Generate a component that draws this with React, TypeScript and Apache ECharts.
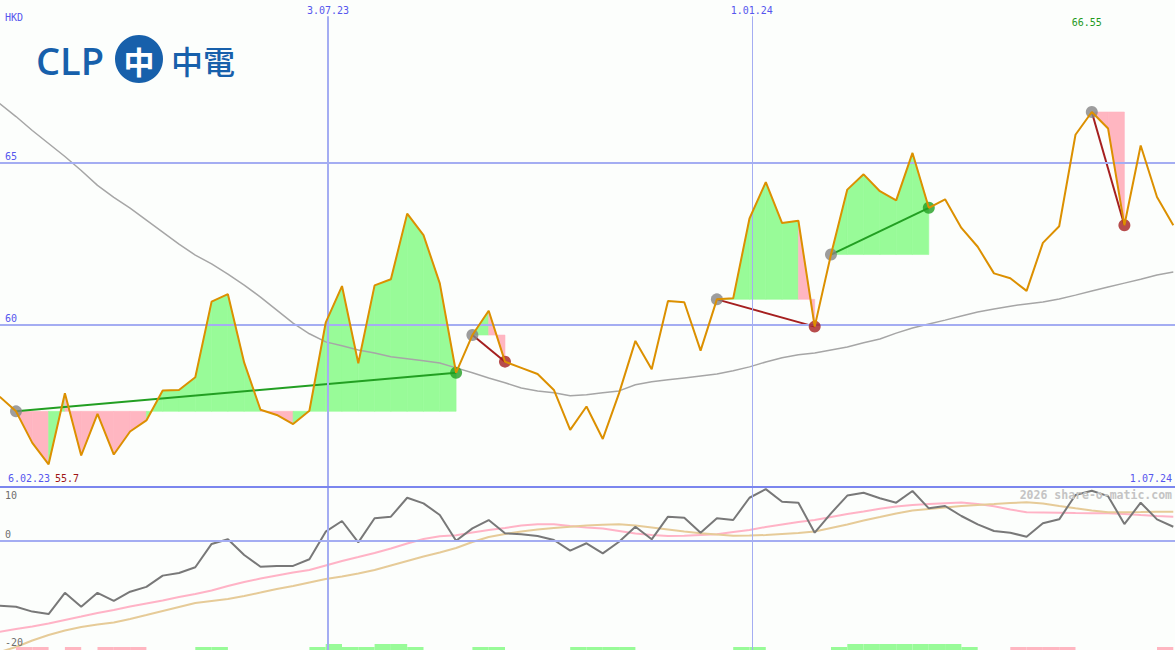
import React, { useEffect, useRef } from 'react';
import * as echarts from 'echarts';

// ---------- data (weekly, index 0 = week of 12.02.23) ----------
const FIRST_WEEK = Date.UTC(2023, 1, 12);
const WEEK_MS = 7 * 86400000;

const price = [
  57.78, 57.33, 56.36, 55.70, 57.89, 55.97, 57.25, 56.00, 56.71, 57.05,
  57.97, 57.99, 58.38, 60.71, 60.94, 58.83, 57.38, 57.22, 56.94, 57.35,
  60.06, 61.19, 58.81, 61.21, 61.40, 63.42, 62.76, 61.27, 58.52, 59.68,
  60.43, 58.86, 58.67, 58.48, 57.99, 56.76, 57.48, 56.48, 57.89, 59.50,
  58.63, 60.73, 60.69, 59.20, 60.78, 60.81, 63.27, 64.39, 63.13, 63.20,
  59.94, 62.16, 64.16, 64.63, 64.11, 63.83, 65.29, 63.60, 63.86, 62.98,
  62.40, 61.58, 61.43, 61.04, 62.52, 63.03, 65.85, 66.55, 66.04, 63.06,
  65.52, 63.93, 63.06,
];

const movingAvg = [
  66.81, 66.41, 65.98, 65.58, 65.18, 64.75, 64.29, 63.92, 63.59, 63.22,
  62.85, 62.48, 62.14, 61.87, 61.56, 61.22, 60.85, 60.45, 60.05, 59.72,
  59.47, 59.35, 59.22, 59.13, 59.01, 58.95, 58.89, 58.82, 58.67, 58.52,
  58.36, 58.21, 58.05, 57.96, 57.90, 57.81, 57.84, 57.90, 57.96, 58.15,
  58.24, 58.30, 58.36, 58.42, 58.48, 58.58, 58.70, 58.85, 58.98, 59.07,
  59.13, 59.22, 59.31, 59.44, 59.56, 59.74, 59.90, 60.02, 60.14, 60.27,
  60.39, 60.48, 60.57, 60.64, 60.70, 60.79, 60.91, 61.04, 61.16, 61.28,
  61.40, 61.53, 61.62,
];

const oscillator = [
  -12.1, -12.3, -13.2, -13.65, -9.7, -12.3, -9.7, -11.2, -9.5, -8.6,
  -6.5, -6.0, -4.95, -0.6, 0.26, -2.66, -4.84, -4.7, -4.7, -3.46,
  1.68, 3.67, -0.3, 4.17, 4.47, 8.0, 6.96, 4.79, 0.0, 2.3,
  3.85, 1.38, 1.19, 0.88, 0.13, -1.86, -0.48, -2.35, -0.19, 2.6,
  0.26, 4.47, 4.28, 1.49, 4.17, 3.85, 8.0, 9.6, 7.26, 7.08,
  1.49, 5.1, 8.4, 8.94, 7.9, 7.08, 9.26, 6.03, 6.46, 4.6,
  3.05, 1.8, 1.49, 0.74, 3.24, 3.98, 8.5, 9.3, 8.3, 3.1,
  7.08, 3.98, 2.6,
];

const oscFast = [
  -16.95, -16.44, -15.98, -15.42, -14.77, -14.12, -13.46, -12.90, -12.25, -11.69,
  -11.13, -10.48, -9.93, -9.27, -8.44, -7.69, -7.04, -6.48, -5.92, -5.46,
  -4.62, -3.78, -3.04, -2.29, -1.45, -0.52, 0.32, 0.82, 1.02, 1.53,
  1.99, 2.37, 2.83, 3.05, 3.05, 2.74, 2.46, 2.27, 1.81, 1.34,
  1.06, 0.88, 0.93, 1.06, 1.19, 1.62, 1.99, 2.55, 3.02, 3.48,
  3.85, 4.41, 4.97, 5.44, 5.94, 6.37, 6.65, 6.83, 6.98, 7.11,
  6.83, 6.41, 5.81, 5.29, 5.25, 5.21, 5.16, 5.12, 5.10, 4.97,
  4.78, 4.60, 4.47,
];

const oscSlow = [
  -20.73, -19.79, -18.58, -17.56, -16.72, -16.07, -15.61, -15.23, -14.58, -13.84,
  -13.09, -12.35, -11.60, -11.23, -10.86, -10.30, -9.65, -8.99, -8.44, -7.78,
  -7.13, -6.67, -6.11, -5.46, -4.62, -3.78, -2.94, -2.20, -1.36, -0.24,
  0.69, 1.25, 1.71, 2.09, 2.37, 2.61, 2.83, 2.96, 3.05, 2.83,
  2.46, 2.09, 1.71, 1.38, 1.15, 0.93, 0.97, 1.06, 1.25, 1.43,
  1.71, 2.37, 3.02, 3.76, 4.41, 5.07, 5.62, 5.90, 6.18, 6.46,
  6.65, 6.83, 7.02, 7.15, 6.93, 6.46, 6.03, 5.62, 5.29, 5.31,
  5.34, 5.38, 5.40,
];

const trendStart = [1, 29, 44, 51, 67];
const trendEnd = [28, 31, 50, 57, 69];

const sellWeeks = [1, 2, 4, 6, 7, 8, 62, 63, 64, 65, 71];
const buyWeeks = [12, 13, 19, 21, 22, 25, 29, 30, 35, 36, 37, 38, 45, 46, 51, 59];
const strongBuyWeeks = [20, 23, 24, 52, 53, 54, 55, 56, 57, 58];

const dateMarkLabels = ['3.07.23', '1.01.24'];
const dateMarkDates = [Date.UTC(2023, 6, 3), Date.UTC(2024, 0, 1)];
const priceTicks = [65, 60];
const oscTicks = [10, 0, -20];
const startDateLabel = '6.02.23';
const endDateLabel = '1.07.24';
const currencyLabel = 'HKD';
const watermark = '2026 share-o-matic.com';

// ---------- styling ----------
const X_MIN = 0.0184;
const X_MAX = 72.105;
const BLUE_TEXT = '#5656ee';
const GRID_LINE = '#a4adf2';
const BORDER_LINE = '#7b86ee';
const ORANGE = '#dc9000';
const GREEN_FILL = '#98fb98';
const PINK_FILL = '#ffb6c1';
const MA_COLOR = '#a6a6a6';
const UP_COLOR = '#229f22';
const DOWN_COLOR = '#a51f1f';
const START_DOT = '#858585';
const MONO = '"DejaVu Sans Mono", monospace';
const LOGO_BLUE = '#1760ab';

const fmt = (v: number) => String(+v.toFixed(2));

function buildOption() {
  const pts = (arr: number[]) => arr.map((v, i) => [i, v]);
  const weekOf = (d: number) => (d - FIRST_WEEK) / WEEK_MS;

  const visible = price.slice(1);
  const maxVal = Math.max(...visible);
  const minVal = Math.min(...visible);
  const maxIdx = price.indexOf(maxVal);

  const fillData: number[][] = [];
  trendStart.forEach((s, k) => {
    for (let j = s; j < trendEnd[k]; j++) fillData.push([j, k, price[j]]);
  });

  const barData: number[][] = [];
  sellWeeks.forEach((w) => barData.push([w, 1, -1]));
  buyWeeks.forEach((w) => barData.push([w, 1, 1]));
  strongBuyWeeks.forEach((w) => barData.push([w, 2, 1]));

  const trendSeries = trendStart.map((s, k) => {
    const e = trendEnd[k];
    const up = price[e] >= price[s];
    return {
      type: 'line',
      xAxisIndex: 0,
      yAxisIndex: 0,
      data: [[s, price[s]], [e, price[e]]],
      symbol: 'none',
      lineStyle: { color: up ? UP_COLOR : DOWN_COLOR, width: 2 },
      z: 4,
      silent: true,
    };
  });

  const dotData: any[] = [];
  trendStart.forEach((s, k) => {
    const e = trendEnd[k];
    const up = price[e] >= price[s];
    dotData.push({ value: [s, price[s]], itemStyle: { color: START_DOT } });
    dotData.push({ value: [e, price[e]], itemStyle: { color: up ? UP_COLOR : DOWN_COLOR } });
  });

  const vMarksPrice = dateMarkDates.map((d, k) => [
    {
      coord: [weekOf(d), 69.5],
      lineStyle: { width: k === 0 ? 2 : 1, color: GRID_LINE, type: 'solid' },
      label: {
        show: true,
        position: 'start',
        formatter: dateMarkLabels[k],
        color: BLUE_TEXT,
        fontFamily: MONO,
        fontSize: 10,
        distance: 1,
      },
    },
    { coord: [weekOf(d), 55] },
  ]);

  const vMarksOsc = dateMarkDates.map((d, k) => ({
    xAxis: weekOf(d),
    lineStyle: { width: k === 0 ? 2 : 1, color: GRID_LINE, type: 'solid' },
    label: { show: false },
  }));

  const hMarksPrice = priceTicks.map((t) => ({
    yAxis: t,
    lineStyle: { width: 2, color: GRID_LINE, type: 'solid' },
    label: {
      show: true,
      position: 'insideStartTop',
      formatter: String(t),
      color: BLUE_TEXT,
      fontFamily: MONO,
      fontSize: 10,
      distance: [5, 1],
    },
  }));

  const hMarksOsc = oscTicks.map((t) => ({
    yAxis: t,
    lineStyle: {
      width: 2,
      color: t === 10 ? BORDER_LINE : t === 0 ? GRID_LINE : 'rgba(0,0,0,0)',
      type: 'solid',
    },
    label: {
      show: true,
      position: t === 10 ? 'insideStartBottom' : 'insideStartTop',
      formatter: String(t),
      color: '#6e6e6e',
      fontFamily: MONO,
      fontSize: 10,
      distance: [5, t === 10 ? 3 : 1],
    },
  }));

  return {
    animation: false,
    backgroundColor: '#fcfefc',
    grid: [
      { left: 0, right: 0, top: 0, height: 487 },
      { left: 0, right: 0, top: 487, height: 163 },
    ],
    xAxis: [
      { type: 'value', gridIndex: 0, min: X_MIN, max: X_MAX, show: false },
      { type: 'value', gridIndex: 1, min: X_MIN, max: X_MAX, show: false },
    ],
    yAxis: [
      { type: 'value', gridIndex: 0, min: 55, max: 70, show: false },
      { type: 'value', gridIndex: 1, min: -20.35, max: 10, show: false },
    ],
    graphic: [
      {
        type: 'text',
        left: 5,
        top: 12,
        style: { text: currencyLabel, fill: BLUE_TEXT, font: `10px ${MONO}` },
      },
      {
        type: 'text',
        left: 8,
        top: 473,
        style: { text: startDateLabel, fill: BLUE_TEXT, font: `10px ${MONO}` },
      },
      {
        type: 'text',
        left: 55,
        top: 473,
        style: { text: fmt(minVal), fill: '#a01515', font: `10px ${MONO}` },
      },
      {
        type: 'text',
        right: 3,
        top: 473,
        style: { text: endDateLabel, fill: BLUE_TEXT, font: `10px ${MONO}` },
      },
      {
        type: 'text',
        right: 3,
        top: 489,
        z: 20,
        style: { text: watermark, fill: '#c4c4c4', font: `bold 11.5px ${MONO}` },
      },
      {
        type: 'group',
        left: 36,
        top: 35,
        children: [
          {
            type: 'text',
            x: 0,
            y: 26,
            style: {
              text: 'CLP',
              fill: LOGO_BLUE,
              font: '600 38px "Open Sans", "Noto Sans", sans-serif',
              verticalAlign: 'middle',
            },
          },
          {
            type: 'circle',
            shape: { cx: 103, cy: 25, r: 24 },
            style: { fill: LOGO_BLUE },
          },
          {
            type: 'text',
            x: 103,
            y: 26,
            style: {
              text: '中',
              fill: '#ffffff',
              font: 'bold 31px "Noto Sans CJK TC", sans-serif',
              align: 'center',
              verticalAlign: 'middle',
            },
          },
          {
            type: 'text',
            x: 135,
            y: 26,
            style: {
              text: '中電',
              fill: LOGO_BLUE,
              font: '500 32px "Noto Sans CJK TC", sans-serif',
              verticalAlign: 'middle',
            },
          },
        ],
      },
    ],
    series: [
      // grid lines of price panel (drawn below fills)
      {
        type: 'line',
        xAxisIndex: 0,
        yAxisIndex: 0,
        data: [[X_MIN, 55]],
        symbol: 'none',
        z: 0,
        silent: true,
        markLine: {
          silent: true,
          symbol: ['none', 'none'],
          animation: false,
          data: [...hMarksPrice, ...vMarksPrice],
        },
      },
      // trend fills
      {
        type: 'custom',
        xAxisIndex: 0,
        yAxisIndex: 0,
        z: 1,
        silent: true,
        encode: { x: 0, y: 2 },
        data: fillData,
        renderItem: (params: any, api: any) => {
          const j = api.value(0) as number;
          const k = api.value(1) as number;
          const base = price[trendStart[k]];
          const a = api.coord([j, base]);
          const b = api.coord([j, price[j]]);
          const c = api.coord([j + 1, price[j + 1]]);
          const d = api.coord([j + 1, base]);
          const col = price[j + 1] >= base ? GREEN_FILL : PINK_FILL;
          return {
            type: 'polygon',
            shape: { points: [a, b, c, d] },
            style: { fill: col, stroke: col, lineWidth: 0.6 },
          };
        },
      },
      // moving average
      {
        type: 'line',
        xAxisIndex: 0,
        yAxisIndex: 0,
        data: pts(movingAvg),
        symbol: 'none',
        lineStyle: { color: MA_COLOR, width: 1.5 },
        z: 2,
        silent: true,
      },
      ...trendSeries,
      // trend dots
      {
        type: 'scatter',
        xAxisIndex: 0,
        yAxisIndex: 0,
        data: dotData,
        symbolSize: 12,
        z: 5,
        silent: true,
      },
      // price
      {
        type: 'line',
        xAxisIndex: 0,
        yAxisIndex: 0,
        data: pts(price),
        symbol: 'none',
        lineStyle: { color: ORANGE, width: 2 },
        z: 6,
        silent: true,
        markPoint: {
          silent: true,
          symbol: 'circle',
          symbolSize: 0,
          data: [{ coord: [maxIdx, 70], value: maxVal }],
          label: {
            show: true,
            position: 'inside',
            formatter: fmt(maxVal),
            color: '#1f9a1f',
            fontFamily: MONO,
            fontSize: 10,
            offset: [-5, 22],
          },
        },
      },
      // oscillator panel grid lines
      {
        type: 'line',
        xAxisIndex: 1,
        yAxisIndex: 1,
        data: [[X_MIN, -20]],
        symbol: 'none',
        z: 0,
        silent: true,
        markLine: {
          silent: true,
          symbol: ['none', 'none'],
          animation: false,
          data: [...vMarksOsc, ...hMarksOsc],
        },
      },
      {
        type: 'line',
        xAxisIndex: 1,
        yAxisIndex: 1,
        data: pts(oscFast),
        symbol: 'none',
        lineStyle: { color: '#ffb3c6', width: 2 },
        z: 2,
        silent: true,
      },
      {
        type: 'line',
        xAxisIndex: 1,
        yAxisIndex: 1,
        data: pts(oscSlow),
        symbol: 'none',
        lineStyle: { color: '#e6cb98', width: 2 },
        z: 2,
        silent: true,
      },
      {
        type: 'line',
        xAxisIndex: 1,
        yAxisIndex: 1,
        data: pts(oscillator),
        symbol: 'none',
        lineStyle: { color: '#787878', width: 2 },
        z: 3,
        silent: true,
      },
      // signal bars
      {
        type: 'custom',
        xAxisIndex: 1,
        yAxisIndex: 1,
        z: 4,
        silent: true,
        encode: { x: 0 },
        data: barData,
        renderItem: (params: any, api: any) => {
          const j = api.value(0) as number;
          const lvl = api.value(1) as number;
          const sign = api.value(2) as number;
          const p0 = api.coord([j, -20.35]);
          const p1 = api.coord([j + 1, -20.35]);
          const h = lvl * 3;
          return {
            type: 'rect',
            shape: { x: p0[0], y: p0[1] - h, width: p1[0] - p0[0], height: h },
            style: { fill: sign > 0 ? GREEN_FILL : PINK_FILL },
          };
        },
      },
    ],
  };
}

export default function App() {
  const ref = useRef<HTMLDivElement>(null);
  useEffect(() => {
    if (!ref.current) return;
    const chart = echarts.init(ref.current, undefined, { renderer: 'svg' });
    chart.setOption(buildOption() as any);
    return () => chart.dispose();
  }, []);
  return (
    <div
      ref={ref}
      style={{ position: 'fixed', left: 0, top: 0, width: 1175, height: 650 }}
    />
  );
}
